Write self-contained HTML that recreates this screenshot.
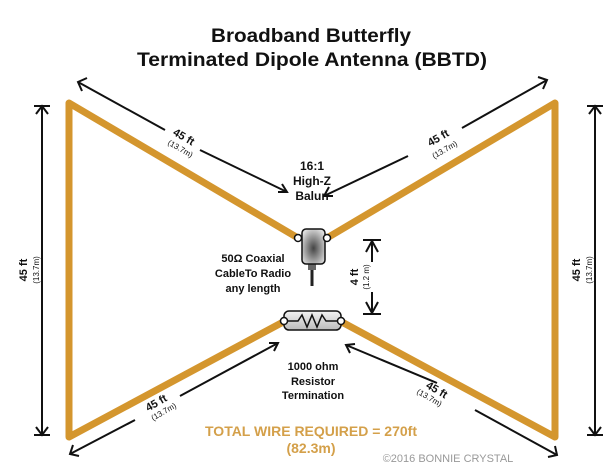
<!DOCTYPE html>
<html><head><meta charset="utf-8"><style>
html,body{margin:0;padding:0;background:#fff;}
svg{display:block;font-family:"Liberation Sans",Arial,sans-serif;}
</style></head><body>
<svg width="616" height="476" viewBox="0 0 616 476" xmlns="http://www.w3.org/2000/svg">
<defs>
<radialGradient id="bg" cx="50%" cy="55%" r="60%"><stop offset="0" stop-color="#444"/><stop offset="1" stop-color="#ddd"/></radialGradient>
<linearGradient id="rg" x1="0" y1="0" x2="0" y2="1"><stop offset="0" stop-color="#f2f2f2"/><stop offset="1" stop-color="#bbb"/></linearGradient>
</defs>
<text x="311" y="42" font-size="19" font-weight="bold" text-anchor="middle" fill="#111" textLength="200" lengthAdjust="spacingAndGlyphs">Broadband Butterfly</text>
<text x="312" y="66" font-size="19" font-weight="bold" text-anchor="middle" fill="#111" textLength="350" lengthAdjust="spacingAndGlyphs">Terminated Dipole Antenna (BBTD)</text>
<!-- wires -->
<g stroke="#d4962e" stroke-width="7" fill="none" stroke-linejoin="round">
<polyline points="298,238 69,103 69,437 285,321"/>
<polyline points="327,238 555,103 555,437 340,321"/>
</g>
<!-- dimension arrows -->
<g stroke="#111" stroke-width="2" fill="none">
<line x1="42" y1="106" x2="42" y2="435"/><line x1="34" y1="106" x2="50" y2="106"/><line x1="34" y1="435" x2="50" y2="435"/>
<polyline points="36,114 42,106 48,114"/><polyline points="36,427 42,435 48,427"/>
<line x1="595" y1="106" x2="595" y2="435"/><line x1="587" y1="106" x2="603" y2="106"/><line x1="587" y1="435" x2="603" y2="435"/>
<polyline points="589,114 595,106 601,114"/><polyline points="589,427 595,435 601,427"/>
<line x1="78" y1="82" x2="165" y2="130"/><polyline points="87,78 78,82 82,91"/>
<line x1="200" y1="150" x2="287" y2="192"/><polyline points="278,192 287,192 282,184"/>
<line x1="547" y1="80" x2="462" y2="128"/><polyline points="538,77 547,80 543,89"/>
<line x1="408" y1="156" x2="324" y2="196"/><polyline points="333,196 324,196 329,187"/>
<line x1="70" y1="454" x2="135" y2="420"/><polyline points="73,445 70,454 79,456"/>
<line x1="180" y1="396" x2="278" y2="343"/><polyline points="269,343 278,343 274,351"/>
<line x1="557" y1="455" x2="475" y2="410"/><polyline points="555,446 557,455 548,457"/>
<line x1="437" y1="383" x2="346" y2="345"/><polyline points="355,344 346,345 350,353"/>
<line x1="363" y1="240" x2="381" y2="240"/><polyline points="366,252 372,241 378,252"/><line x1="372" y1="241" x2="372" y2="262"/>
<line x1="363" y1="314" x2="381" y2="314"/><polyline points="366,302 372,313 378,302"/><line x1="372" y1="313" x2="372" y2="292"/>
</g>
<!-- balun -->
<line x1="312" y1="270" x2="312" y2="286" stroke="#222" stroke-width="3"/>
<rect x="308" y="262" width="8" height="8" fill="#666"/>
<rect x="302" y="229" width="23" height="35" rx="4" fill="url(#bg)" stroke="#111" stroke-width="1.5"/>
<circle cx="298" cy="238" r="3.5" fill="#fff" stroke="#111" stroke-width="1.5"/>
<circle cx="327" cy="238" r="3.5" fill="#fff" stroke="#111" stroke-width="1.5"/>
<!-- resistor -->
<rect x="284" y="311" width="57" height="19" rx="5" fill="url(#rg)" stroke="#111" stroke-width="1.5"/>
<polyline points="288,321 298,321 302,315 307,327 312,315 317,327 322,315 326,321 338,321" fill="none" stroke="#111" stroke-width="1.5"/>
<circle cx="284" cy="321" r="3.5" fill="#fff" stroke="#111" stroke-width="1.5"/>
<circle cx="341" cy="321" r="3.5" fill="#fff" stroke="#111" stroke-width="1.5"/>
<!-- labels -->
<g font-weight="bold" fill="#111" text-anchor="middle">
<text x="312" y="170" font-size="12">16:1</text>
<text x="312" y="185" font-size="12">High-Z</text>
<text x="312" y="200" font-size="12">Balun</text>
<text x="253" y="262" font-size="11">50Ω Coaxial</text>
<text x="253" y="277" font-size="11">CableTo Radio</text>
<text x="253" y="292" font-size="11">any length</text>
<text x="313" y="370" font-size="11">1000 ohm</text>
<text x="313" y="385" font-size="11">Resistor</text>
<text x="313" y="399" font-size="11">Termination</text>
<text transform="translate(182,140) rotate(30)" font-size="11">45 ft</text>
<text transform="translate(179,151) rotate(30)" font-size="8" font-weight="normal">(13.7m)</text>
<text transform="translate(440,141) rotate(-30)" font-size="11">45 ft</text>
<text transform="translate(446,152) rotate(-30)" font-size="8" font-weight="normal">(13.7m)</text>
<text transform="translate(158,406) rotate(-30)" font-size="11">45 ft</text>
<text transform="translate(165,414) rotate(-30)" font-size="8" font-weight="normal">(13.7m)</text>
<text transform="translate(435,393) rotate(30)" font-size="11">45 ft</text>
<text transform="translate(428,400) rotate(30)" font-size="8" font-weight="normal">(13.7m)</text>
<text transform="translate(27,270) rotate(-90)" font-size="11">45 ft</text>
<text transform="translate(39,270) rotate(-90)" font-size="8" font-weight="normal">(13.7m)</text>
<text transform="translate(580,270) rotate(-90)" font-size="11">45 ft</text>
<text transform="translate(592,270) rotate(-90)" font-size="8" font-weight="normal">(13.7m)</text>
<text transform="translate(358,277) rotate(-90)" font-size="11">4 ft</text>
<text transform="translate(369,277) rotate(-90)" font-size="8" font-weight="normal">(1.2 m)</text>
</g>
<text x="311" y="436" font-size="14" font-weight="bold" text-anchor="middle" fill="#d4a04a">TOTAL WIRE REQUIRED = 270ft</text>
<text x="311" y="453" font-size="14" font-weight="bold" text-anchor="middle" fill="#d4a04a">(82.3m)</text>
<text x="448" y="462" font-size="11" text-anchor="middle" fill="#999">©2016 BONNIE CRYSTAL</text>
</svg>
</body></html>
